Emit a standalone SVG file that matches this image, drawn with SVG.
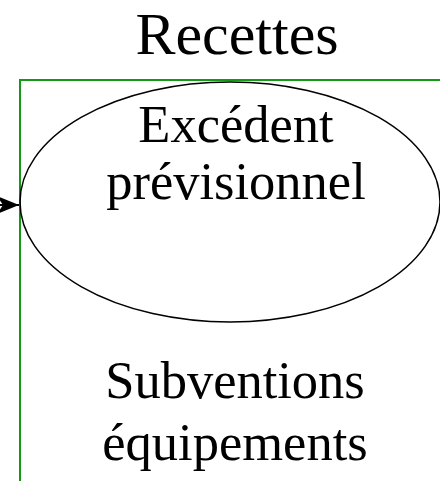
<svg xmlns="http://www.w3.org/2000/svg" width="440" height="481" viewBox="0 0 440 481">
<style>
text{font-family:"Liberation Serif","Times New Roman",serif;fill:#000;text-anchor:middle}
.big{font-size:60px}
.lbl{font-size:52.5px}
</style>
<defs>
<marker id="ah" markerWidth="24" markerHeight="20" refX="22" refY="10" orient="auto" markerUnits="userSpaceOnUse">
<path d="M0,1 L22,10 L0,19 L6,10 Z" fill="#000"/>
</marker>
</defs>
<rect width="440" height="481" fill="#fff"/>
<g id="recettes">
<rect x="20" y="80" width="440" height="420" fill="none" stroke="#139913" stroke-width="2"/>
<text class="big" x="237" y="54">Recettes</text>
</g>
<g id="excedent">
<ellipse cx="230" cy="202" rx="210" ry="120" fill="none" stroke="#000" stroke-width="1.5"/>
<text class="lbl" x="236" y="142">Excédent</text>
<text class="lbl" x="236" y="199">prévisionnel</text>
</g>
<g id="subventions">
<text class="lbl" x="235" y="398">Subventions</text>
<text class="lbl" x="235" y="460">équipements</text>
</g>
<g id="connectors">
<line x1="-20" y1="205" x2="19" y2="205" stroke="#000" stroke-width="2" marker-end="url(#ah)"/>
</g>
</svg>
